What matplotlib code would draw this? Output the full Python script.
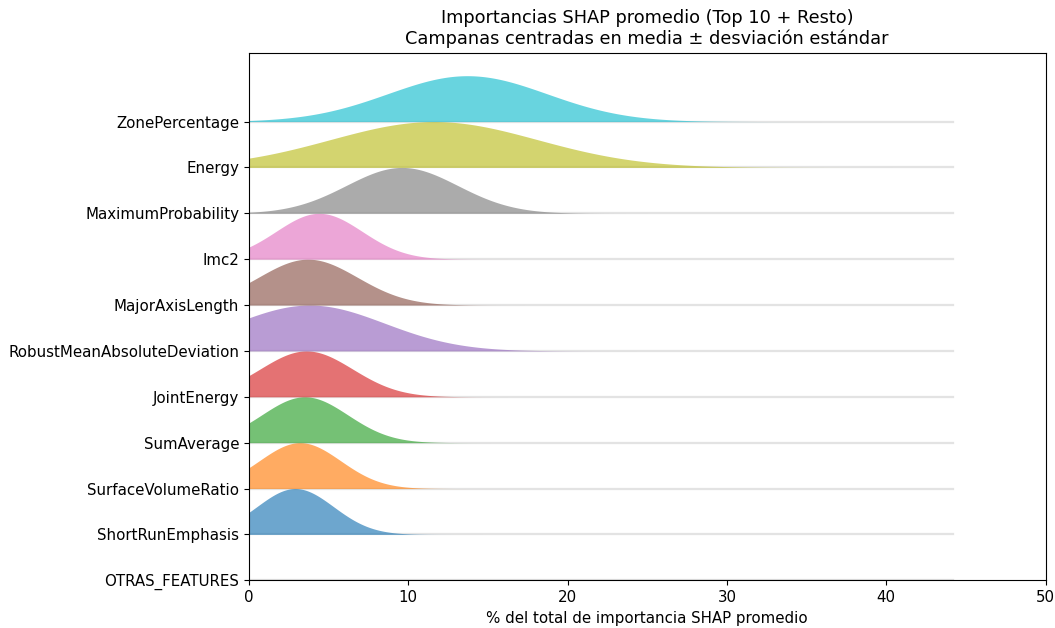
import numpy as np
import matplotlib
matplotlib.use("Agg")
import matplotlib.pyplot as plt

features = ["OTRAS_FEATURES", "ShortRunEmphasis", "SurfaceVolumeRatio", "SumAverage",
            "JointEnergy", "RobustMeanAbsoluteDeviation", "MajorAxisLength", "Imc2",
            "MaximumProbability", "Energy", "ZonePercentage"]
means = [np.nan, 2.9, 3.2, 3.5, 3.6, 3.8, 3.7, 4.4, 9.6, 11.6, 13.7]
stds = [np.nan, 2.4, 2.55, 2.7, 2.9, 4.7, 3.1, 2.7, 3.5, 6.5, 5.0]
colors = [None, "tab:blue", "tab:orange", "tab:green", "tab:red", "tab:purple",
          "tab:brown", "tab:pink", "tab:gray", "tab:olive", "tab:cyan"]
x_max = 44.2
xticks = [0, 10, 20, 30, 40, 50]

fig = plt.figure(figsize=(10.55, 6.28), dpi=100)
ax = fig.add_axes([0.236, 0.076, 0.755, 0.840])

x = np.linspace(0, x_max, 800)
for i, (m, s, c) in enumerate(zip(means, stds, colors)):
    ax.plot(x, np.full_like(x, i), color="#e3e3e3", lw=1.6, zorder=1)
    if np.isnan(m) or np.isnan(s):
        continue
    y = np.exp(-0.5 * ((x - m) / s) ** 2)
    ax.fill_between(x, i, i + y, color=c, alpha=0.65, lw=0, zorder=2)

ax.set_yticks(range(len(features)))
ax.set_yticklabels(features, fontsize=10.8)
ax.set_xticks(xticks)
ax.tick_params(axis="x", labelsize=10.8)
ax.set_xlim(0, 50)
ax.set_ylim(0, len(features) + 0.5)
ax.set_xlabel("% del total de importancia SHAP promedio", fontsize=10.8)
ax.set_title("Importancias SHAP promedio (Top 10 + Resto)\nCampanas centradas en media ± desviación estándar",
             fontsize=12.8)

fig.savefig("out.png", dpi=100)
